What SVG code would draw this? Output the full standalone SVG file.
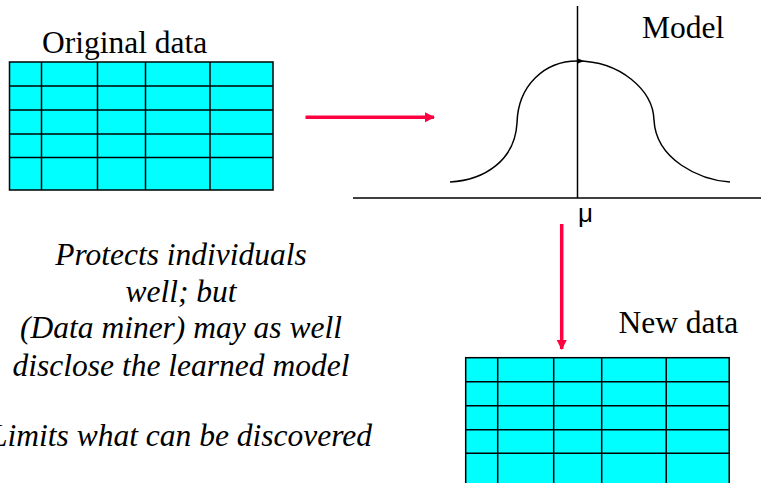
<svg xmlns="http://www.w3.org/2000/svg" width="761" height="483" viewBox="0 0 761 483">
<style>
.grid rect{fill:#00FFFF;stroke:#000;stroke-width:1.5}
.grid line{stroke:#000;stroke-width:1.5}
.ax{stroke:#000;stroke-width:1.5;fill:none}
.conn{stroke:#FF0040;stroke-width:3.5;fill:none}
.lbl{font-family:'Liberation Serif','Times New Roman',serif;font-size:31.5px}
.note{font-family:'Liberation Serif','Times New Roman',serif;font-size:31.5px;font-style:italic;text-anchor:middle}
</style>
<defs>
<marker id="ah" viewBox="0 0 10 10" refX="9" refY="5" markerWidth="3" markerHeight="3" orient="auto" markerUnits="strokeWidth">
<path d="M0,0 L10,5 L0,10 z" fill="#FF0040"/>
</marker>
<g id="table" class="grid">
<rect x="0" y="0" width="263.5" height="128"/>
<line x1="32" y1="0" x2="32" y2="128"/>
<line x1="88" y1="0" x2="88" y2="128"/>
<line x1="136" y1="0" x2="136" y2="128"/>
<line x1="200.5" y1="0" x2="200.5" y2="128"/>
<line x1="0" y1="24" x2="263.5" y2="24"/>
<line x1="0" y1="48" x2="263.5" y2="48"/>
<line x1="0" y1="72" x2="263.5" y2="72"/>
<line x1="0" y1="95.5" x2="263.5" y2="95.5"/>
</g>
</defs>
<g id="original-data">
<text class="lbl" x="42" y="53">Original data</text>
<use href="#table" x="9.5" y="62"/>
</g>
<g id="model">
<line class="ax" x1="353" y1="198" x2="761" y2="198"/>
<line class="ax" x1="577.5" y1="6" x2="577.5" y2="198"/>
<path class="ax" d="M450,182 C485,180 515,160 517,123 C518,85 545,61 577,61 C620,61 653,90 654,120 C656,160 700,180 730,182"/>
<path d="M578,58.5 L584,61 L578,63.5 z" fill="#000"/>
<text class="lbl" x="642" y="38">Model</text>
<text x="578" y="222" style="font-family:'Liberation Sans',Arial,sans-serif;font-size:26px">μ</text>
</g>
<g id="new-data">
<text class="lbl" x="618.5" y="333">New data</text>
<use href="#table" x="465.7" y="357.7"/>
</g>
<g id="note" class="note">
<text x="181" y="265">Protects individuals</text>
<text x="181" y="302">well; but</text>
<text x="181" y="338">(Data miner) may as well</text>
<text x="181" y="375.5">disclose the learned model</text>
<text x="181" y="446">Limits what can be discovered</text>
</g>
<g id="connectors">
<line class="conn" x1="305.5" y1="117.3" x2="434" y2="117.3" marker-end="url(#ah)"/>
<line class="conn" x1="561.7" y1="224" x2="561.7" y2="349" marker-end="url(#ah)"/>
</g>
</svg>
